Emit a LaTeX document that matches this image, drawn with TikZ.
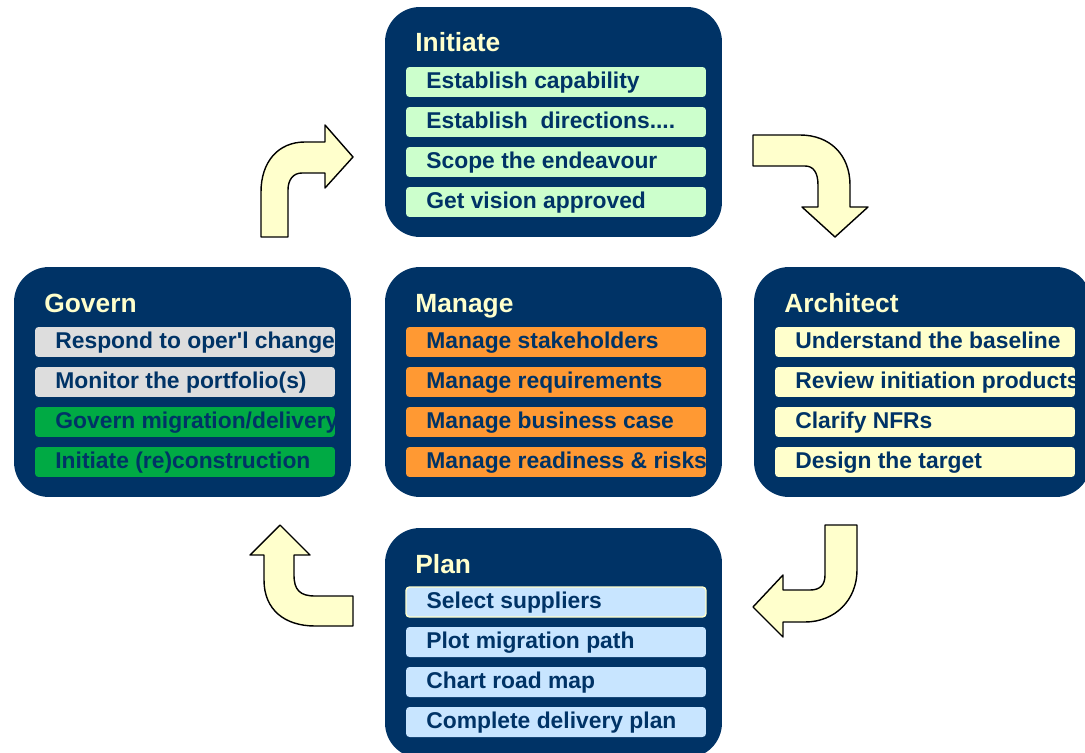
\documentclass[tikz,border=0pt]{standalone}
\usepackage{fontspec}
\setmainfont{Liberation Sans}
\usepackage{tikz}
\usetikzlibrary{calc}
\definecolor{navy}{RGB}{0,51,102}
\definecolor{cream}{RGB}{255,255,204}
\definecolor{mint}{RGB}{204,255,204}
\definecolor{pale}{RGB}{221,221,221}
\definecolor{leaf}{RGB}{0,170,68}
\definecolor{amber}{RGB}{255,153,51}
\definecolor{sky}{RGB}{200,229,255}
\tikzset{
  phase/.style={fill=navy, rounded corners=0.7cm, minimum width=6.74cm, minimum height=4.6cm, inner sep=0pt},
  phasetitle/.style={anchor=base west, inner sep=0pt, text=cream, font=\fontsize{15}{18}\selectfont\bfseries},
  task/.style={minimum width=6cm, minimum height=0.6cm, inner sep=0pt, rounded corners=2pt,
    path picture={\node[anchor=base west, inner sep=0pt, minimum width=0pt, minimum height=0pt,
      draw=none, text=navy, font=\fontsize{13}{15}\selectfont\bfseries]
      at ([xshift=0.4cm,yshift=-0.13cm]path picture bounding box.west) {#1};}},
  flow/.style={fill=cream, draw=black, line width=0.8pt, line join=round}
}

\begin{document}
\begin{tikzpicture}[x=0.02cm, y=-0.02cm]
\useasboundingbox (0,0) rectangle (1085,753);
\clip (0,0) rectangle (1085,753);

\begin{scope}[shift={(385,7)}]
\node[phase] (init) at (168.5,115) {};
\node[phasetitle] (initT) at (30,45) {Initiate};
\node[task={Establish capability}, fill=mint] (init1) at (171,75) {};
\node[task={Establish\ \ directions....}, fill=mint] (init2) at (171,115) {};
\node[task={Scope the endeavour}, fill=mint] (init3) at (171,155) {};
\node[task={Get vision approved}, fill=mint] (init4) at (171,195) {};
\end{scope}

\begin{scope}[shift={(14,267)}]
\node[phase] (gov) at (168.5,115) {};
\node[phasetitle] (govT) at (30,45) {Govern};
\node[task={Respond to oper\textquotesingle l change}, fill=pale] (gov1) at (171,75) {};
\node[task={Monitor the portfolio(s)}, fill=pale] (gov2) at (171,115) {};
\node[task={Govern migration/delivery}, fill=leaf] (gov3) at (171,155) {};
\node[task={Initiate (re)construction}, fill=leaf] (gov4) at (171,195) {};
\end{scope}

\begin{scope}[shift={(385,267)}]
\node[phase] (man) at (168.5,115) {};
\node[phasetitle] (manT) at (30,45) {Manage};
\node[task={Manage stakeholders}, fill=amber] (man1) at (171,75) {};
\node[task={Manage requirements}, fill=amber] (man2) at (171,115) {};
\node[task={Manage business case}, fill=amber] (man3) at (171,155) {};
\node[task={Manage readiness \& risks}, fill=amber] (man4) at (171,195) {};
\end{scope}

\begin{scope}[shift={(754,267)}]
\node[phase] (arch) at (168.5,115) {};
\node[phasetitle] (archT) at (30,45) {Architect};
\node[task={Understand the baseline}, fill=cream] (arch1) at (171,75) {};
\node[task={Review initiation products}, fill=cream] (arch2) at (171,115) {};
\node[task={Clarify NFRs}, fill=cream] (arch3) at (171,155) {};
\node[task={Design the target}, fill=cream] (arch4) at (171,195) {};
\end{scope}

\begin{scope}[shift={(385,528)}]
\node[phase] (plan) at (168.5,115) {};
\node[phasetitle] (planT) at (30,45) {Plan};
\node[task={Select suppliers}, fill=sky, draw=cream, line width=0.8pt] (plan1) at (171,74) {};
\node[task={Plot migration path}, fill=sky] (plan2) at (171,114) {};
\node[task={Chart road map}, fill=sky] (plan3) at (171,154) {};
\node[task={Complete delivery plan}, fill=sky] (plan4) at (171,194) {};
\end{scope}

% cycle arrows
\draw[flow] (261,237) -- (261,192) .. controls (261,162) and (278,142) .. (305,142) -- (325,142)
  -- (325,125) -- (353,157) -- (325,188) -- (325,173) -- (302,173)
  .. controls (293,173) and (288,180) .. (288,190) -- (288,237) -- cycle;
\draw[flow] (753,135) -- (800,135) .. controls (830,135) and (850,155) .. (850,185) -- (850,207)
  -- (868,207) -- (835,237) -- (802,207) -- (818,207) -- (818,185)
  .. controls (818,172) and (813,166) .. (805,166) -- (753,166) -- cycle;
\draw[flow] (825,525) -- (857,525) -- (857,570) .. controls (857,600) and (835,622) .. (805,622)
  -- (783,622) -- (783,637) -- (753,607) -- (783,575) -- (783,590) -- (810,590)
  .. controls (820,590) and (825,585) .. (825,575) -- cycle;
\draw[flow] (353,596) -- (315,596) .. controls (300,596) and (294,590) .. (294,575) -- (294,555)
  -- (310,555) -- (280,525) -- (250,555) -- (264,555) -- (264,580)
  .. controls (264,610) and (285,626) .. (315,626) -- (353,626) -- cycle;
\end{tikzpicture}
\end{document}
